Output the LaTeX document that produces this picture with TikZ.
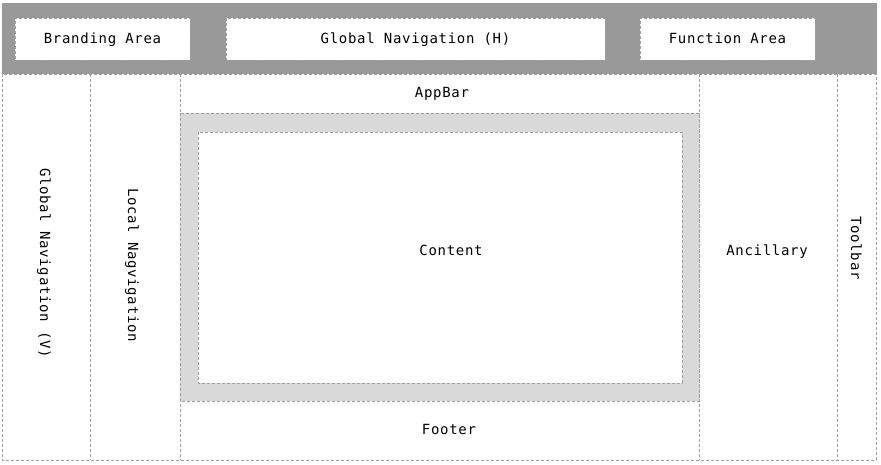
\documentclass[tikz,border=0pt]{standalone}
\usepackage{fontspec}
\setmonofont[LetterSpace=5]{DejaVu Sans Mono}
\usepackage{tikz}

\definecolor{barfill}{HTML}{999999}
\definecolor{framefill}{HTML}{D9D9D9}
\definecolor{edgegray}{HTML}{A0A0A0}

\begin{document}
\begin{tikzpicture}[x=1pt,y=-1pt,
    font=\fontsize{14}{16}\selectfont\ttfamily,
    dashedge/.style={draw=edgegray,line width=0.9pt,dash pattern=on 3pt off 2pt},
    area/.style={dashedge,fill=white,minimum height=42pt,inner sep=0pt,
      text height=10pt,text depth=0pt},
    label/.style={text=black,inner sep=0pt,text height=10pt,text depth=0pt},
    vlabel/.style={label,rotate=-90}]

  \useasboundingbox (0,0) rectangle (881,465);

  % Header

  \fill[barfill] (2,3) rectangle (877,74);
  \node[area,minimum width=175pt] (brand) at (102.5,39) {Branding Area};
  \node[area,minimum width=379pt] (globh) at (415.5,39) {Global Navigation (H)};
  \node[area,minimum width=175pt] (func)  at (727.5,39) {Function Area};

  % Columns

  \draw[dashedge] (2,74) rectangle (876,460);
  \draw[dashedge] (90,74) -- (90,460);
  \draw[dashedge] (180,74) -- (180,460);
  \draw[dashedge] (699,74) -- (699,460);
  \draw[dashedge] (837,74) -- (837,460);

  % Content frame

  \draw[dashedge,fill=framefill] (180,113) rectangle (699,401);
  \draw[dashedge,fill=white] (198,132) rectangle (682,383);

  % Labels

  \node[vlabel] (globv)   at (45,263)  {Global Navigation (V)};
  \node[vlabel] (local)   at (133,265) {Local Nagvigation};
  \node[label]  (appbar)  at (442,93)  {AppBar};
  \node[label]  (content) at (451,250) {Content};
  \node[label]  (footer)  at (449,429) {Footer};
  \node[label]  (ancil)   at (767,250) {Ancillary};
  \node[vlabel] (tools)   at (856,248) {Toolbar};

\end{tikzpicture}
\end{document}
